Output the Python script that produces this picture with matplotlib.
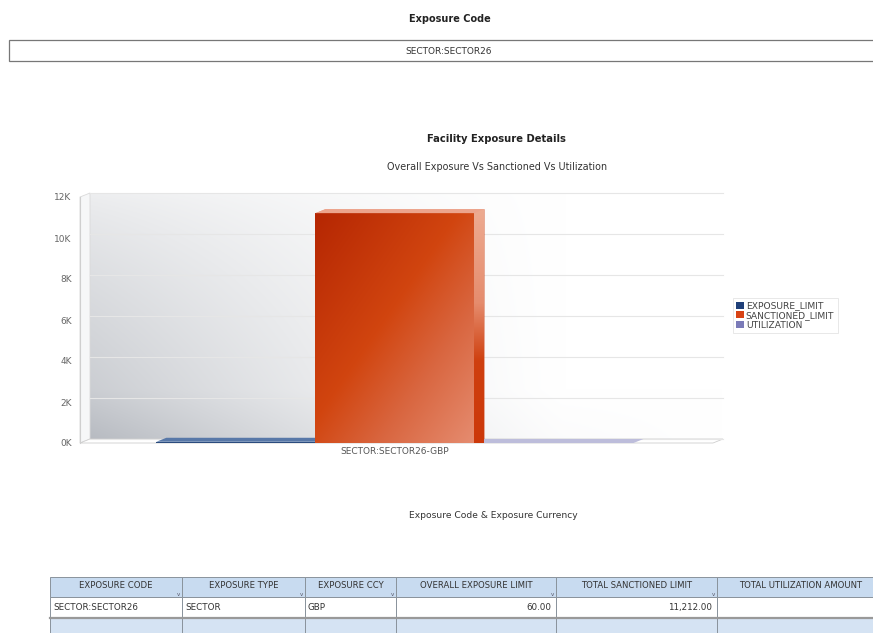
import numpy as np
import matplotlib
matplotlib.use("Agg")
import matplotlib.pyplot as plt
from matplotlib.patches import Rectangle, Polygon, Patch

plt.rcParams['font.family'] = ['DejaVu Sans']

# ---------------- data ----------------
exposure_code = "SECTOR:SECTOR26"
categories = ["SECTOR:SECTOR26-GBP"]
series_names = ["EXPOSURE_LIMIT", "SANCTIONED_LIMIT", "UTILIZATION"]
series_values = [60.0, 11212.0, 0.0]
y_ticks = [0, 2000, 4000, 6000, 8000, 10000, 12000]
y_tick_labels = ["0K", "2K", "4K", "6K", "8K", "10K", "12K"]
table_columns = ["EXPOSURE CODE", "EXPOSURE TYPE", "EXPOSURE CCY",
                 "OVERALL EXPOSURE LIMIT", "TOTAL SANCTIONED LIMIT",
                 "TOTAL UTILIZATION AMOUNT"]
table_row = ["SECTOR:SECTOR26", "SECTOR", "GBP", "60.00", "11,212.00", ""]

# ---------------- figure ----------------
W, H = 873, 633
fig = plt.figure(figsize=(W / 100, H / 100), dpi=100)
fig.patch.set_facecolor("white")

ov = fig.add_axes([0, 0, 1, 1])
ov.set_xlim(0, W)
ov.set_ylim(H, 0)
ov.axis("off")


def px_axes(l, t, r, b):
    return [l / W, 1 - b / H, (r - l) / W, (b - t) / H]


# header block
ov.text(450, 19, "Exposure Code", ha="center", va="center", fontsize=7,
        fontweight="bold", color="#222")
ov.add_patch(Rectangle((9, 40), 880, 21, fc="white", ec="#777", lw=0.9))
ov.text(449, 51, exposure_code, ha="center", va="center", fontsize=6.5,
        color="#333")

ov.text(496, 139, "Facility Exposure Details", ha="center", va="center",
        fontsize=7.2, fontweight="bold", color="#222")
ov.text(497, 167, "Overall Exposure Vs Sanctioned Vs Utilization",
        ha="center", va="center", fontsize=6.9, color="#333")

# ---------------- chart ----------------
ax = fig.add_axes(px_axes(80, 197, 713, 443))
ax.set_facecolor("none")
ax.set_autoscale_on(False)
xlim = (-1.98, 2.0)
ylim = (0, 12000)
ax.set_xlim(xlim)
ax.set_ylim(ylim)
ax_w_px, ax_h_px = 633, 246
dx = 10 * (xlim[1] - xlim[0]) / ax_w_px
dy = 4 * (ylim[1] - ylim[0]) / ax_h_px
x0, x1 = xlim

# back wall gradient
nx, ny = 240, 120
X, Y = np.meshgrid(np.linspace(0, 1, nx), np.linspace(0, 1, ny))
d = 0.23 * np.clip(1 - X / 0.75, 0, 1) ** 1.3 * (0.3 + 0.7 * (1 - Y) ** 0.8)
d += 0.05 * np.clip(1 - Y / 0.2, 0, 1) * np.clip(1 - X, 0, 1)
wall = 1 - d[..., None] * np.array([1.0, 0.95, 0.86])
ax.imshow(np.clip(wall, 0, 1), extent=(x0 + dx, x1 + dx, dy, ylim[1] + dy),
          origin="lower", aspect="auto", zorder=0, clip_on=False,
          interpolation="bilinear")

# left side wall and floor
ax.add_patch(Polygon([(x0, 0), (x0, ylim[1]), (x0 + dx, ylim[1] + dy),
                      (x0 + dx, dy)], closed=True, fc="#f6f7f8", ec="#dadada",
                     lw=0.6, zorder=0.5, clip_on=False))
ax.add_patch(Polygon([(x0, 0), (x1, 0), (x1 + dx, dy), (x0 + dx, dy)],
                     closed=True, fc="white", ec="#cfcfcf", lw=0.6,
                     zorder=0.6, clip_on=False))

# gridlines on back wall
for t in y_ticks:
    ax.plot([x0 + dx, x1 + dx], [t + dy, t + dy], color="#e6e6e6", lw=0.8,
            zorder=1, clip_on=False)

# bars
n = len(series_values)
bw = 1.0
offsets = (np.arange(n) - (n - 1) / 2) * bw
front_cols = ["#2b4c7e", "#cc3d10", "#9c9cc8"]
top_cols = ["#5878a8", "#eca48c", "#bdbddb"]
side_cols = ["#34568a", "#cf4418", "#a8a8cf"]
draw_order = [0, 2, 1]
for i in draw_order:
    v = series_values[i]
    cx = offsets[i]
    bx0, bx1 = cx - bw / 2, cx + bw / 2
    z = 4 if i == 1 else 3
    bars = ax.bar(cx, v, width=bw, color=front_cols[i], zorder=z, lw=0)
    top = Polygon([(bx0, v), (bx1, v), (bx1 + dx, v + dy), (bx0 + dx, v + dy)],
                  closed=True, fc=top_cols[i], ec="none", zorder=z,
                  clip_on=False)
    ax.add_patch(top)
    side = Polygon([(bx1, 0), (bx1, v), (bx1 + dx, v + dy), (bx1 + dx, dy)],
                   closed=True, fc=side_cols[i], ec="none", zorder=z,
                   clip_on=False)
    ax.add_patch(side)
    if i == 1:
        # diagonal gradient on front face
        gx, gy = np.meshgrid(np.linspace(0, 1, 120), np.linspace(0, 1, 200))
        tt = np.clip(0.5 * gx + 0.5 * (1 - gy), 0, 1)
        stops_t = [0.0, 0.45, 0.7, 1.0]
        stops_c = np.array([[0.71, 0.15, 0.01], [0.82, 0.27, 0.06],
                            [0.85, 0.40, 0.25], [0.90, 0.55, 0.44]])
        img = np.stack([np.interp(tt, stops_t, stops_c[:, k]) for k in range(3)],
                       axis=-1)
        im = ax.imshow(img, extent=(bx0, bx1, 0, v), origin="lower",
                       aspect="auto", zorder=z + 0.1, interpolation="bilinear")
        im.set_clip_path(bars.patches[0])
        # vertical gradient on side face
        sy = np.linspace(0, 1, 200)[:, None] * np.ones((1, 4))
        s_t = [0.0, 0.35, 0.6, 1.0]
        s_c = np.array([[0.80, 0.22, 0.04], [0.81, 0.25, 0.06],
                        [0.90, 0.55, 0.43], [0.93, 0.67, 0.57]])
        simg = np.stack([np.interp(sy, s_t, s_c[:, k]) for k in range(3)],
                        axis=-1)
        sim = ax.imshow(simg, extent=(bx1, bx1 + dx, 0, v + dy), origin="lower",
                        aspect="auto", zorder=z + 0.1, interpolation="bilinear",
                        clip_on=False)
        sim.set_clip_path(side)
        ax.add_patch(Polygon([(bx0, v), (bx1, v), (bx1 + dx, v + dy),
                              (bx0 + dx, v + dy)], closed=True,
                             fc=top_cols[i], ec="none", zorder=z + 0.2,
                             clip_on=False))

ax.set_xlim(xlim)
ax.set_ylim(ylim)
ax.set_yticks(y_ticks, y_tick_labels)
ax.set_xticks([0], categories)
ax.tick_params(axis="y", length=0, labelsize=6.5, labelcolor="#666", pad=6)
ax.tick_params(axis="x", length=0, labelsize=6.5, labelcolor="#555", pad=3)
for s in ["top", "right", "bottom"]:
    ax.spines[s].set_visible(False)
ax.spines["left"].set_color("#cfcfcf")
ax.spines["left"].set_linewidth(0.8)

handles = [Patch(facecolor=c, edgecolor="none") for c in
           ["#1f3f78", "#d84315", "#7b7bb8"]]
leg = ax.legend(handles, series_names, loc="upper left",
                bbox_to_anchor=(733 / W, 1 - 298 / H),
                bbox_transform=fig.transFigure, fontsize=6.6, frameon=True,
                fancybox=False, handlelength=0.8, handleheight=0.8,
                handletextpad=0.25, labelspacing=0.08, borderpad=0.35,
                borderaxespad=0)
leg.get_frame().set_edgecolor("#dddddd")
leg.get_frame().set_linewidth(0.6)
for t in leg.get_texts():
    t.set_color("#444")

# ---------------- table ----------------
ov.text(493, 515, "Exposure Code & Exposure Currency", ha="center",
        va="center", fontsize=6.6, color="#333")
col_edges = [50, 182, 305, 396, 556, 717, 885]
row_y = [577, 597, 618, 640]
numeric_cols = {3, 4, 5}
for j, name in enumerate(table_columns):
    cx0, cx1 = col_edges[j], col_edges[j + 1]
    ov.add_patch(Rectangle((cx0, row_y[0]), cx1 - cx0, row_y[1] - row_y[0],
                           fc="#c8dbf0", ec="#8a939c", lw=0.7))
    ov.text((cx0 + cx1) / 2, (row_y[0] + row_y[1]) / 2 - 1.5, name,
            ha="center", va="center", fontsize=6.1, color="#333")
    if cx1 - 4 < W - 2:
        ov.text(cx1 - 4, row_y[1] - 3, "v", ha="center", va="center",
                fontsize=4, color="#556")
    ov.add_patch(Rectangle((cx0, row_y[1]), cx1 - cx0, row_y[2] - row_y[1],
                           fc="white", ec="#8a939c", lw=0.7))
    if j in numeric_cols:
        ov.text(cx1 - 5, (row_y[1] + row_y[2]) / 2, table_row[j], ha="right",
                va="center", fontsize=6.3, color="#333")
    else:
        ov.text(cx0 + 3, (row_y[1] + row_y[2]) / 2, table_row[j], ha="left",
                va="center", fontsize=6.3, color="#333")
    ov.add_patch(Rectangle((cx0, row_y[2]), cx1 - cx0, row_y[3] - row_y[2],
                           fc="#d5e3f3", ec="#8a939c", lw=0.7))
ov.plot([col_edges[0], col_edges[-1]], [row_y[2], row_y[2]], color="#999",
        lw=1.6)

fig.savefig("out.png", dpi=100)
